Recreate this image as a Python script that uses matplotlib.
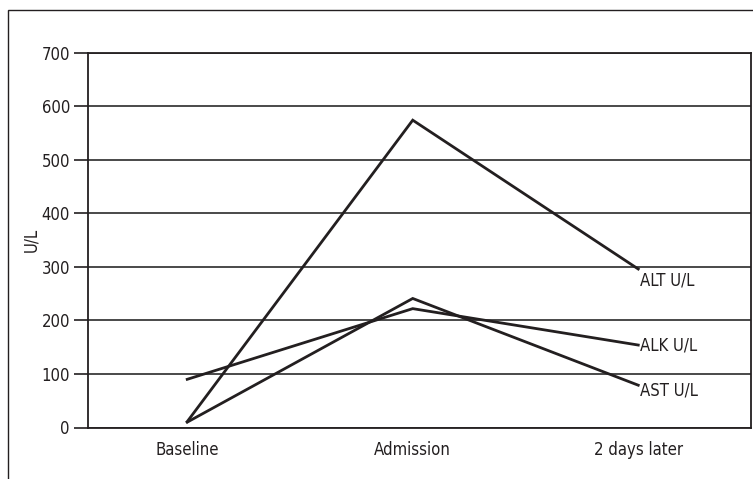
import matplotlib.pyplot as plt
from matplotlib.patches import Rectangle

# chart data
categories = ["Baseline", "Admission", "2 days later"]
alt_values = [11, 574, 296]
alk_values = [90, 222, 154]
ast_values = [10, 241, 79]
series_names = ["ALT U/L", "ALK U/L", "AST U/L"]
y_ticks = [0, 100, 200, 300, 400, 500, 600, 700]

ink = "#231f20"
plt.rcParams['font.family'] = ['DejaVu Sans']
plt.rcParams['font.stretch'] = 'condensed'

fig = plt.figure(figsize=(7.53, 4.79), dpi=100)
W, H = 753, 479
ax = fig.add_axes([88 / W, 1 - 427.5 / H, (751 - 88) / W, (427.5 - 52.7) / H])

# outer frame, cut off on the right and bottom
fig.patches.append(Rectangle((8 / W, -0.1), 1.2, 1 - 10 / H + 0.1,
                             transform=fig.transFigure, fill=False,
                             edgecolor=ink, linewidth=1.0))

x = list(range(len(categories)))
for vals in (alt_values, alk_values, ast_values):
    ax.plot(x, vals, color=ink, linewidth=2.0, solid_joinstyle='miter')

ax.set_xlim(-0.44, 2.5)
ax.set_ylim(0, 700)
ax.set_yticks(y_ticks)
ax.set_xticks(x)
ax.set_xticklabels(categories)
ax.tick_params(axis='x', length=0, pad=10, labelsize=12, colors=ink)
ax.tick_params(axis='y', length=10, width=1.2, pad=3, labelsize=12, colors=ink)
ax.yaxis.grid(True, color='#3a3a3a', linewidth=1.3)
ax.set_axisbelow(True)
for side in ('left', 'right', 'bottom', 'top'):
    ax.spines[side].set_color(ink)
    ax.spines[side].set_linewidth(1.3)
ax.set_ylabel("U/L", fontsize=12, color=ink, labelpad=1)

# series labels next to the line ends
label_offsets = [-22, 0, -10]
for name, vals, off in zip(series_names, (alt_values, alk_values, ast_values), label_offsets):
    ax.text(2.01, vals[-1] + off, name, fontsize=12, color=ink, va='center', ha='left')

fig.savefig("out.png", dpi=100)
